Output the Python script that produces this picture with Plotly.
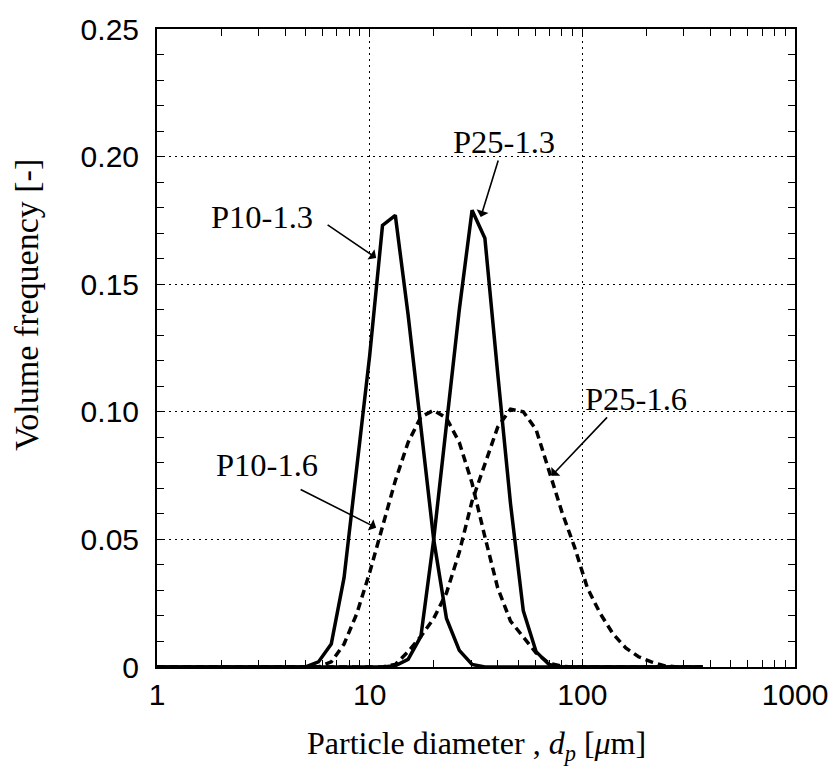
import plotly.graph_objects as go

# Particle-size bins [um] (common grid, ratio ~1.149) plus the axis start
d_p10_13 = [1.0, 4.353, 5.0, 5.743, 6.598, 7.579, 8.706, 10.0, 11.49, 13.20, 15.16,
            17.41, 20.0, 22.97, 26.39, 30.31, 34.82, 367.6]
v_p10_13 = [0, 0, 0, 0.002, 0.009, 0.035, 0.080, 0.122, 0.173, 0.177, 0.138,
            0.093, 0.050, 0.019, 0.0065, 0.001, 0, 0]

d_p25_13 = [1.0, 11.49, 13.20, 15.16, 17.41, 20.0, 22.97, 26.39, 30.31, 34.82,
            40.0, 45.95, 52.78, 60.63, 69.64, 80.0, 367.6]
v_p25_13 = [0, 0, 0.0005, 0.003, 0.012, 0.050, 0.095, 0.140, 0.179, 0.168,
            0.115, 0.064, 0.022, 0.006, 0.001, 0, 0]

d_p10_16 = [1.0, 5.743, 6.598, 7.579, 8.706, 10.0, 11.49, 13.20, 15.16, 17.41,
            20.0, 22.97, 26.39, 30.31, 34.82, 40.0, 45.95, 52.78, 60.63, 69.64,
            80.0, 91.9, 367.6]
v_p10_16 = [0, 0, 0.002, 0.009, 0.021, 0.037, 0.055, 0.073, 0.088, 0.098,
            0.1006, 0.0975, 0.088, 0.072, 0.051, 0.031, 0.018, 0.0115, 0.0055, 0.0015,
            0.0003, 0, 0]

d_p25_16 = [1.0, 11.49, 13.20, 15.16, 17.41, 20.0, 22.97, 26.39, 30.31, 34.82,
            40.0, 45.95, 52.78, 60.63, 69.64, 80.0, 91.9, 105.6, 121.3, 139.3,
            160.0, 183.8, 211.1, 242.5, 278.6, 367.6]
v_p25_16 = [0, 0, 0.001, 0.006, 0.012, 0.019, 0.029, 0.045, 0.065, 0.080,
            0.094, 0.101, 0.100, 0.093, 0.077, 0.061, 0.047, 0.031, 0.021, 0.013,
            0.0075, 0.004, 0.002, 0.0005, 0, 0]

x_ticks = [1, 10, 100, 1000]
x_tick_text = ["1", "10", "100", "1000"]
x_minor = [m * 10 ** e for e in range(3) for m in range(2, 10)]
y_ticks = [0, 0.05, 0.10, 0.15, 0.20, 0.25]
y_tick_text = ["0", "0.05", "0.10", "0.15", "0.20", "0.25"]

SERIF = "Liberation Serif, Times New Roman, serif"
SANS = "Liberation Sans, Arial, sans-serif"

fig = go.Figure()
for xs, ys, dash in [(d_p10_13, v_p10_13, "solid"),
                     (d_p25_13, v_p25_13, "solid"),
                     (d_p10_16, v_p10_16, "8px,5px"),
                     (d_p25_16, v_p25_16, "8px,5px")]:
    fig.add_trace(go.Scatter(x=xs, y=ys, mode="lines", cliponaxis=False,
                             line=dict(color="black", width=3.5, dash=dash),
                             showlegend=False, hoverinfo="skip"))

axis_common = dict(
    showline=True, linecolor="black", linewidth=2, mirror="ticks",
    ticks="inside", tickcolor="black", tickwidth=1.2, ticklen=8,
    showgrid=True, gridcolor="black", gridwidth=1, griddash="2px,4px",
    zeroline=False,
    tickfont=dict(family=SANS, size=30, color="black"),
)

fig.update_xaxes(
    type="log", range=[0, 3], tickmode="array",
    tickvals=x_ticks, ticktext=x_tick_text, ticklabelstandoff=0,
    minor=dict(tickmode="array", tickvals=x_minor, ticks="inside",
               ticklen=7, tickcolor="black", tickwidth=1.2, showgrid=False),
    **axis_common,
)
fig.update_yaxes(
    range=[0, 0.25], tickmode="array",
    tickvals=y_ticks, ticktext=y_tick_text, ticklabelstandoff=10,
    minor=dict(dtick=0.01, tick0=0, ticks="inside", ticklen=7,
               tickcolor="black", tickwidth=1.2, showgrid=False),
    **axis_common,
)

label_font = dict(family=SERIF, size=32.5, color="black")

# Curve labels (x in log10 units on the log axis)
labels = [
    ("P10-1.3", 0.492, 0.1763),
    ("P25-1.3", 1.630, 0.2059),
    ("P10-1.6", 0.515, 0.0792),
    ("P25-1.6", 2.253, 0.1049),
]
for text, lx, ly in labels:
    fig.add_annotation(x=lx, y=ly, xref="x", yref="y", text=text,
                       showarrow=False, font=label_font,
                       xanchor="center", yanchor="middle")

# Pointer arrows: head on the curve, tail offset in pixels
arrows = [
    (1.0304, 0.1603, -50, -34),
    (1.522, 0.1763, 18, -58),
    (1.0304, 0.0546, -77, -39),
    (1.855, 0.0749, 57, -60),
]
for hx, hy, ax, ay in arrows:
    fig.add_annotation(x=hx, y=hy, xref="x", yref="y", text="",
                       showarrow=True, ax=ax, ay=ay,
                       arrowhead=1, arrowsize=1.3, arrowwidth=1.6,
                       arrowcolor="black", standoff=0)

# Axis titles
fig.add_annotation(
    x=0.5, y=-0.088, xref="paper", yref="paper",
    text="Particle diameter , <i>d</i><sub><i>p</i></sub> [<i>μ</i>m]",
    showarrow=False, font=dict(family=SERIF, size=32, color="black"),
    xanchor="center", yanchor="top",
)
fig.add_annotation(
    x=-0.205, y=0.568, xref="paper", yref="paper",
    text="Volume frequency [-]", textangle=-90,
    showarrow=False, font=dict(family=SERIF, size=34, color="black"),
    xanchor="center", yanchor="middle",
)

fig.update_layout(
    width=840, height=774,
    margin=dict(l=157, r=42, t=26, b=107),
    paper_bgcolor="white", plot_bgcolor="white",
    showlegend=False,
)

fig.write_html("out.html")
